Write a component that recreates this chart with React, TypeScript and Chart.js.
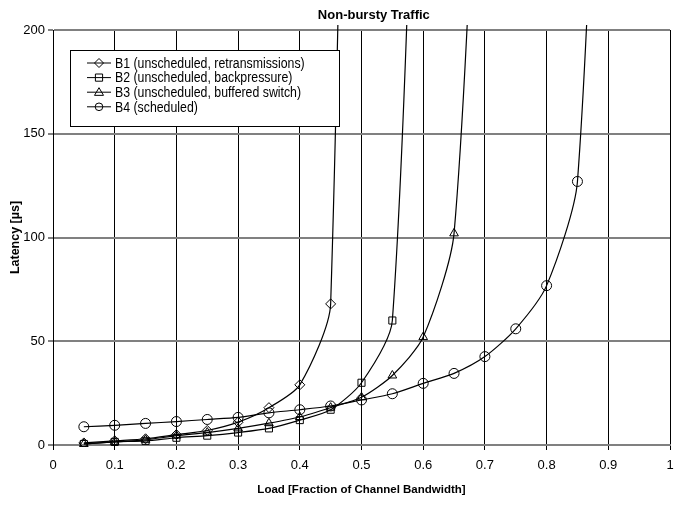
import React, { useEffect, useRef } from 'react';
import { Chart, registerables } from 'chart.js';

Chart.register(...registerables);

const chartTitle = 'Non-bursty Traffic';
const xAxisTitle = 'Load [Fraction of Channel Bandwidth]';
const yAxisTitle = 'Latency [µs]';

const b1Loads = [0.05, 0.1, 0.15, 0.2, 0.25, 0.3, 0.35, 0.4, 0.45, 0.5];
const b1Latency = [1, 2, 3, 5, 7, 11, 18, 29, 68, 950];

const b2Loads = [0.05, 0.1, 0.15, 0.2, 0.25, 0.3, 0.35, 0.4, 0.45, 0.5, 0.55, 0.6];
const b2Latency = [0.5, 1.5, 2, 3.5, 4.5, 6, 8, 12, 17, 30, 60, 440];

const b3Loads = [0.05, 0.1, 0.15, 0.2, 0.25, 0.3, 0.35, 0.4, 0.45, 0.5, 0.55, 0.6, 0.65, 0.7];
const b3Latency = [0.5, 1.5, 2.5, 4.5, 6, 8, 10.5, 13.5, 18, 23, 33.5, 52, 102, 390];

const b4Loads = [0.05, 0.1, 0.15, 0.2, 0.25, 0.3, 0.35, 0.4, 0.45, 0.5, 0.55, 0.6, 0.65, 0.7, 0.75, 0.8, 0.85, 0.9];
const b4Latency = [8.8, 9.5, 10.4, 11.3, 12.3, 13.3, 15.5, 17, 18.8, 21.7, 24.7, 29.7, 34.5, 42.6, 56, 76.8, 127, 470];

const seriesLabels = [
  'B1 (unscheduled, retransmissions)',
  'B2 (unscheduled, backpressure)',
  'B3 (unscheduled, buffered switch)',
  'B4 (scheduled)',
];
const seriesMarkers = ['rectRot', 'rect', 'triangle', 'circle'];

const FONT = "'Liberation Sans', Arial, sans-serif";

function toPoints(xs: number[], ys: number[]) {
  return xs.map((x, i) => ({ x, y: ys[i] }));
}

function drawMarker(ctx: CanvasRenderingContext2D, style: string, x: number, y: number, r: number) {
  ctx.beginPath();
  if (style === 'rectRot') {
    ctx.moveTo(x, y - r);
    ctx.lineTo(x + r, y);
    ctx.lineTo(x, y + r);
    ctx.lineTo(x - r, y);
    ctx.closePath();
  } else if (style === 'rect') {
    ctx.rect(x - r * 0.8, y - r * 0.8, r * 1.6, r * 1.6);
  } else if (style === 'triangle') {
    ctx.moveTo(x, y - r);
    ctx.lineTo(x + r, y + r * 0.7);
    ctx.lineTo(x - r, y + r * 0.7);
    ctx.closePath();
  } else {
    ctx.arc(x, y, r * 0.85, 0, Math.PI * 2);
  }
  ctx.stroke();
}

const overlayPlugin = {
  id: 'overlay',
  afterDraw(chart: any) {
    const ctx: CanvasRenderingContext2D = chart.ctx;
    const area = chart.chartArea;
    ctx.save();
    // title
    ctx.fillStyle = '#000';
    ctx.font = `bold 13px ${FONT}`;
    ctx.textAlign = 'center';
    ctx.textBaseline = 'middle';
    ctx.fillText(chartTitle, area.left + (area.right - area.left) * 0.52, 15);

    // legend
    const bx = area.left + 17;
    const by = area.top + 20;
    const bw = 269;
    const bh = 76;
    ctx.fillStyle = '#fff';
    ctx.fillRect(bx, by, bw, bh);
    ctx.strokeStyle = '#000';
    ctx.lineWidth = 1;
    ctx.strokeRect(bx + 0.5, by + 0.5, bw, bh);
    ctx.textAlign = 'left';
    ctx.textBaseline = 'middle';
    seriesLabels.forEach((label, i) => {
      const y = by + 13 + i * 14.6;
      ctx.strokeStyle = '#000';
      ctx.lineWidth = 1;
      ctx.beginPath();
      ctx.moveTo(bx + 17, y);
      ctx.lineTo(bx + 41, y);
      ctx.stroke();
      drawMarker(ctx, seriesMarkers[i], bx + 29, y, 4.5);
      ctx.fillStyle = '#000';
      ctx.save();
      ctx.translate(bx + 45, y + 1);
      ctx.scale(0.88, 1);
      ctx.font = `14px ${FONT}`;
      ctx.fillText(label, 0, 0);
      ctx.restore();
    });
    ctx.restore();
  },
};

export default function App() {
  const canvasRef = useRef<HTMLCanvasElement | null>(null);

  useEffect(() => {
    if (!canvasRef.current) return;
    const makeDataset = (i: number, xs: number[], ys: number[]) => ({
      label: seriesLabels[i],
      data: toPoints(xs, ys),
      borderColor: '#000',
      borderWidth: 1.2,
      pointStyle: seriesMarkers[i],
      pointRadius: 5,
      pointBorderColor: '#000',
      pointBorderWidth: 1,
      pointBackgroundColor: 'rgba(0,0,0,0)',
      tension: 0.25,
      fill: false,
      clip: { left: 2, top: 5, right: 2, bottom: 2 },
    });
    const chart = new Chart(canvasRef.current, {
      type: 'line',
      data: {
        datasets: [
          makeDataset(0, b1Loads, b1Latency),
          makeDataset(1, b2Loads, b2Latency),
          makeDataset(2, b3Loads, b3Latency),
          makeDataset(3, b4Loads, b4Latency),
        ],
      },
      options: {
        animation: false,
        responsive: false,
        layout: { padding: { top: 30, right: 0, left: 0, bottom: 0 } },
        plugins: {
          legend: { display: false },
          title: { display: false },
          tooltip: { enabled: false },
        },
        scales: {
          x: {
            type: 'linear',
            min: 0,
            max: 1,
            ticks: {
              stepSize: 0.1,
              color: '#000',
              font: { family: FONT, size: 13 },
              padding: 8,
              maxRotation: 0,
              callback: (v: any) => String(Math.round(Number(v) * 10) / 10),
            },
            grid: { color: '#000', lineWidth: 1, tickLength: 5, tickColor: '#000' },
            border: { color: '#808080', width: 2 },
            title: {
              display: true,
              text: xAxisTitle,
              color: '#000',
              font: { family: FONT, size: 11.5, weight: 'bold' },
              padding: 9,
            },
            afterFit: (scale: any) => {
              scale.height = 61;
              scale.paddingRight = 0;
              scale.paddingLeft = 0;
            },
          },
          y: {
            min: 0,
            max: 200,
            ticks: {
              stepSize: 50,
              color: '#000',
              font: { family: FONT, size: 13 },
              padding: 3,
            },
            grid: { color: '#808080', lineWidth: 2, tickLength: 5, tickColor: '#808080' },
            border: { color: '#000', width: 1 },
            title: {
              display: true,
              text: yAxisTitle,
              color: '#000',
              font: { family: FONT, size: 12.5, weight: 'bold' },
              padding: 8,
            },
            afterFit: (scale: any) => {
              scale.width = 53;
              scale.paddingTop = 0;
              scale.paddingBottom = 0;
            },
          },
        },
      },
      plugins: [overlayPlugin],
    } as any);
    return () => chart.destroy();
  }, []);

  return (
    <div style={{ position: 'fixed', left: 0, top: 0, width: 676, height: 506, background: '#fff' }}>
      <canvas ref={canvasRef} width={676} height={506} style={{ display: 'block', width: 676, height: 506 }} />
    </div>
  );
}
